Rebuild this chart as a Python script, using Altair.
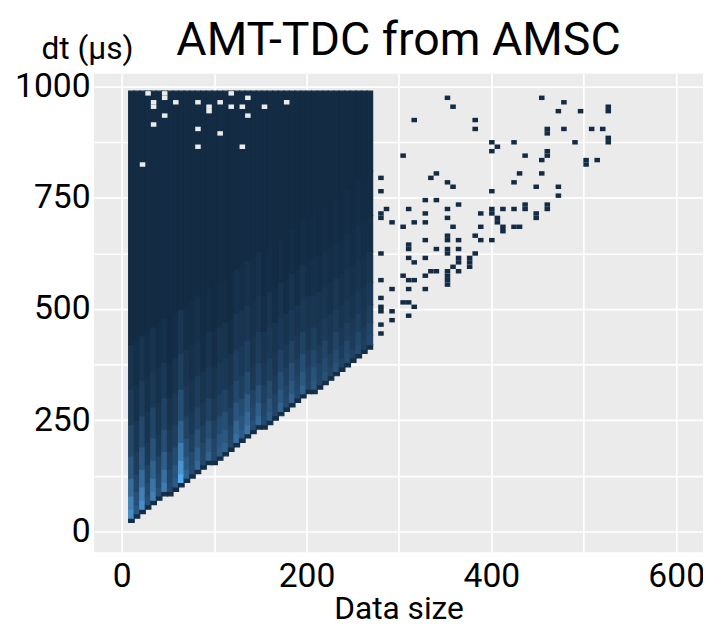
import altair as alt
import pandas as pd
import numpy as np

# ---- bin grid (data units) ----
X0, XW, YW = 7.5, 6.0, 10.0
Y_TOP = 990

# lower edge (dt) of each data-size column of the dense body
col_low = [20, 30, 40, 50, 60, 70, 80, 80, 90, 100, 110, 120, 130, 140,
           150, 150, 160, 170, 180, 190, 200, 210, 220, 230, 230, 240, 250, 260,
           270, 280, 290, 300, 310, 310, 320, 330, 340, 350, 360, 370, 380, 390,
           400, 410]

# streak strength (peak count) of every column, read from the lighter stripes
col_peak = [34, 16, 34, 14, 30, 14, 28, 12, 18, 42, 20, 13, 22, 12, 20, 12, 18, 20, 12, 24,
            18, 26, 14, 22, 12, 18, 11, 20, 12, 20, 12, 20, 11, 17, 11, 15, 10, 15, 9, 13,
            9, 13, 8, 12]
# relative count profile above the lower edge (dt offset bands)
band_edges = [0, 10, 30, 60, 100, 150, 220, 300, 400]
band_share = [0.0, 0.95, 0.82, 0.64, 0.46, 0.32, 0.2, 0.12]
edge_count = 2
top_count = 1

# empty bins inside the dense body (data size, dt)
hole_x = [26, 44, 44, 117, 32, 32, 56, 80, 92, 92, 104, 117, 129, 135, 153, 177,
          44, 135, 32, 80, 104, 80, 129, 20]
hole_y = [983, 983, 973, 984, 955, 965, 964, 964, 945, 955, 964, 955, 955, 973, 955, 964,
          933, 933, 914, 904, 894, 864, 864, 824]

# isolated entries (one count each) outside the dense body
pt_x = [351, 357, 315, 381, 381, 453, 471, 458, 458, 476,
        399, 405, 399, 423, 303, 435, 458, 458, 453,
        279, 279, 333, 339, 351, 357, 429, 453, 423, 447, 471, 471, 399,
        327, 339, 279, 279, 285, 309, 351, 363, 399, 399, 411, 423, 435, 435, 458, 458, 447, 447,
        291, 315, 327, 327, 351, 387, 405, 405, 411, 411, 423, 429, 303, 357, 387,
        279, 309, 309, 327, 351, 351, 351, 351, 363, 363, 339, 381, 387, 399, 381,
        309, 315, 327, 363, 363, 375, 375, 375, 357, 363, 303, 309, 315, 327, 335, 341,
        351, 351, 351, 351,
        279, 291, 309, 327, 279, 279, 279, 303, 309, 315, 291, 291, 309, 279, 279,
        480, 495, 529, 529, 506, 529, 529, 505, 505, 512, 490, 518]
pt_y = [973, 955, 924, 924, 905, 973, 944, 904, 894, 905,
        873, 864, 855, 873, 844, 844, 855, 845, 833,
        794, 764, 794, 805, 783, 773, 805, 805, 783, 773, 773, 755, 764,
        744, 744, 718, 708, 724, 724, 724, 733, 729, 719, 724, 724, 733, 723, 733, 723, 715, 705,
        694, 694, 714, 694, 705, 714, 706, 696, 684, 674, 683, 683, 683, 683, 683,
        624, 645, 635, 655, 666, 656, 635, 625, 655, 633, 633, 664, 655, 655, 624,
        616, 604, 615, 614, 604, 615, 605, 595, 593, 583, 574, 564, 564, 574, 583, 583,
        585, 575, 565, 555,
        564, 544, 544, 544, 524, 504, 494, 516, 516, 504, 493, 474, 483, 464, 444,
        962, 944, 950, 940, 905, 880, 870, 830, 820, 835, 870, 900]

# ---- build bin tables ----
rows = []
for i, low in enumerate(col_low):
    x0 = X0 + XW * i
    for k in range(len(band_share)):
        n = edge_count if k == 0 else max(top_count, round(col_peak[i] * band_share[k]))
        rows.append(dict(x=x0, x2=x0 + XW, y=low + band_edges[k], y2=low + band_edges[k + 1], n=n))
    rows.append(dict(x=x0, x2=x0 + XW, y=low + band_edges[-1], y2=Y_TOP, n=top_count))
body_df = pd.DataFrame(rows)

prow = []
seen = set()
for px, py in zip(pt_x, pt_y):
    bx = X0 + XW * np.floor((px - X0) / XW)
    by = YW * np.floor(py / YW)
    if (bx, by) in seen:
        continue
    seen.add((bx, by))
    prow.append(dict(x=bx, x2=bx + XW, y=by, y2=by + YW, n=1))
pts_df = pd.DataFrame(prow)

hrows = []
for hx, hy in zip(hole_x, hole_y):
    bx = X0 + XW * np.floor((hx - X0) / XW)
    by = YW * np.floor(hy / YW)
    hrows.append(dict(x=bx, x2=bx + XW, y=by, y2=by + YW))
holes_df = pd.DataFrame(hrows)

BG = "#EBEBEB"
FONT = "Roboto"
x_scale = alt.Scale(domain=[-30, 629], nice=False, zero=False)
y_scale = alt.Scale(domain=[-47, 1029], nice=False, zero=False)
color_scale = alt.Scale(domain=[1, 42], range=["#132B43", "#56B1F7"])

x_axis = alt.Axis(values=[0, 100, 200, 300, 400, 500, 600],
                  labelExpr="datum.value % 200 === 0 ? datum.label : ''",
                  ticks=False, domain=False, grid=True, gridColor="white", gridWidth=1.7,
                  labelFontSize=34, labelColor="black", labelFont=FONT, labelPadding=8,
                  title="Data size", titleFontSize=32, titleFont=FONT, titleFontWeight="normal",
                  titleColor="black", titlePadding=0)
y_axis = alt.Axis(values=[0, 125, 250, 375, 500, 625, 750, 875, 1000], format="d",
                  labelExpr="datum.value % 250 === 0 ? datum.label : ''",
                  ticks=False, domain=False, grid=True, gridColor="white", gridWidth=1.7,
                  labelFontSize=34, labelColor="black", labelFont=FONT, labelPadding=4,
                  title="dt (μs)", titleFontSize=32, titleFont=FONT, titleFontWeight="normal",
                  titleColor="black", titleAngle=0, titleAlign="center", titleBaseline="alphabetic",
                  titleX=-7, titleY=-15)

enc = dict(x2="x2:Q", y2="y2:Q")
body = alt.Chart(body_df).mark_rect(strokeWidth=1.2).encode(
    x=alt.X("x:Q", scale=x_scale, axis=x_axis),
    y=alt.Y("y:Q", scale=y_scale, axis=y_axis),
    color=alt.Color("n:Q", scale=color_scale, legend=None),
    stroke=alt.Stroke("n:Q", scale=color_scale, legend=None),
    **enc,
)
singles = alt.Chart(pts_df).mark_rect().encode(
    x=alt.X("x:Q", scale=x_scale),
    y=alt.Y("y:Q", scale=y_scale),
    color=alt.Color("n:Q", scale=color_scale, legend=None),
    **enc,
)
empty = alt.Chart(holes_df).mark_rect(color=BG).encode(
    x=alt.X("x:Q", scale=x_scale),
    y=alt.Y("y:Q", scale=y_scale),
    **enc,
)

chart = alt.layer(body, singles, empty).properties(
    width=616, height=484,
    title=alt.TitleParams("AMT-TDC from AMSC", fontSize=47, font=FONT, fontWeight="normal",
                          color="black", anchor="middle", offset=4, dy=36),
    autosize=alt.AutoSizeParams(type="none"),
    padding={"left": 87, "top": 63, "right": 0, "bottom": 72},
).configure_view(fill=BG, stroke=None)

chart.save("out.html", embed_options={"renderer": "svg", "actions": False})
